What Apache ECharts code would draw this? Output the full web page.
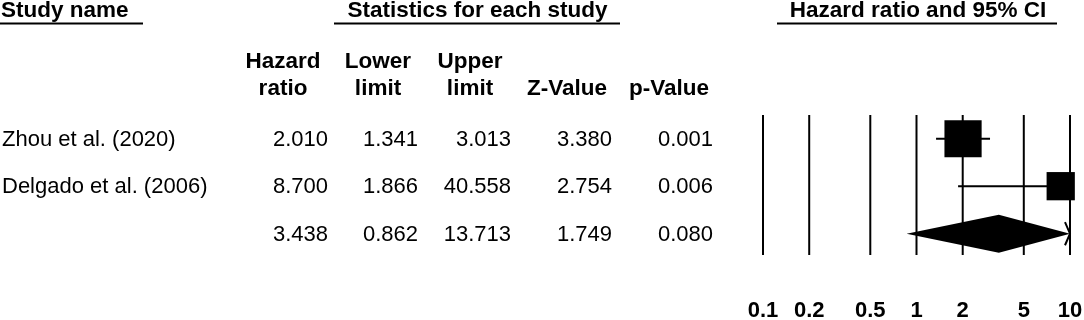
<!DOCTYPE html>
<html><head><meta charset="utf-8">
<script src="https://cdn.jsdelivr.net/npm/echarts@6/dist/echarts.min.js"></script>
<style>html,body{margin:0;padding:0;background:#fff}#c{width:1084px;height:320px}</style>
</head><body><div id="c"></div>
<script>
// ---- data ----
const studies = ['Zhou et al. (2020)', 'Delgado et al. (2006)', ''];
const hazardRatio = [2.010, 8.700, 3.438];
const lowerLimit = [1.341, 1.866, 0.862];
const upperLimit = [3.013, 40.558, 13.713];
const zValue = [3.380, 2.754, 1.749];
const pValue = [0.001, 0.006, 0.080];
const relWeight = [63.4, 36.6, 100];          // relative weights (%), last = pooled
const isSummary = [false, false, true];
const xTicks = [0.1, 0.2, 0.5, 1, 2, 5, 10];
const xTickLabels = ['0.1', '0.2', '0.5', '1', '2', '5', '10'];
const colHeaders = [['Hazard', 'ratio'], ['Lower', 'limit'], ['Upper', 'limit'], ['', 'Z-Value'], ['', 'p-Value']];
const sectionTitles = ['Study name', 'Statistics for each study', 'Hazard ratio and 95% CI'];

// ---- layout ----
const FONT = '"Liberation Sans", Arial, Helvetica, sans-serif';
const colRight = [328, 418, 511, 612, 713];
const colCenter = [283, 378, 470, 567, 669];
const X_MIN = 0.1, X_MAX = 10;

const chart = echarts.init(document.getElementById('c'), null, { renderer: 'canvas' });

function txt(x, y, text, align, bold, size) {
  return { type: 'text', silent: true, style: { x, y, text, align, verticalAlign: 'middle',
    fontFamily: FONT, fontSize: size || 22, fontWeight: bold ? 'bold' : 'normal', fill: '#000' } };
}
function ln(x1, y1, x2, y2, w) {
  return { type: 'line', silent: true, shape: { x1, y1, x2, y2 }, style: { stroke: '#000', lineWidth: w || 2 } };
}

const graphic = [];
// section titles + underlines
const titleCenters = [null, 477.5, 918];
graphic.push(txt(1, 10.5, sectionTitles[0], 'left', true, 22.5));
graphic.push(txt(titleCenters[1], 10.5, sectionTitles[1], 'center', true, 22.5));
graphic.push(txt(titleCenters[2], 10.5, sectionTitles[2], 'center', true, 22.5));
graphic.push(ln(0, 23.5, 143, 23.5, 2));
graphic.push(ln(334, 23.5, 620, 23.5, 2));
graphic.push(ln(777, 23.5, 1057, 23.5, 2));
// column headers
colHeaders.forEach((h, k) => {
  if (h[0]) graphic.push(txt(colCenter[k], 61.5, h[0], 'center', true, 22.5));
  if (h[1]) graphic.push(txt(colCenter[k], 88.5, h[1], 'center', true, 22.5));
});

const rowData = studies.map((s, i) => [1, i, i]);

const option = {
  animation: false,
  backgroundColor: '#fff',
  grid: { left: 763, right: 14, top: 115, height: 140 },
  xAxis: { type: 'log', logBase: 10, min: X_MIN, max: X_MAX, show: false },
  yAxis: { type: 'value', min: -0.5, max: 2.45, inverse: true, show: false },
  graphic: graphic,
  series: [
    { // vertical reference lines and tick labels
      type: 'custom', clip: false, silent: true,
      data: xTicks.map((v, k) => [v, 0, k]),
      renderItem(params, api) {
        const cs = params.coordSys;
        const k = api.value(2);
        const x = api.coord([api.value(0), 0])[0];
        return { type: 'group', children: [
          ln(x, cs.y, x, cs.y + cs.height, 2),
          txt(x, cs.y + cs.height + 56, xTickLabels[k], 'center', true, 22)
        ] };
      }
    },
    { // table text
      type: 'custom', clip: false, silent: true,
      data: rowData,
      renderItem(params, api) {
        const i = api.value(2);
        const y = api.coord([1, i])[1] + 1.2;
        const vals = [hazardRatio[i], lowerLimit[i], upperLimit[i], zValue[i], pValue[i]];
        const ch = [txt(2, y, studies[i], 'left', false, 22)];
        vals.forEach((v, k) => ch.push(txt(colRight[k], y, v.toFixed(3), 'right', false, 22)));
        return { type: 'group', children: ch };
      }
    },
    { // forest marks
      type: 'custom', clip: false, silent: true,
      data: rowData,
      renderItem(params, api) {
        const i = api.value(2);
        const clamp = v => Math.max(X_MIN, Math.min(X_MAX, v));
        const y = api.coord([1, i])[1];
        const xl = api.coord([clamp(lowerLimit[i]), i])[0];
        const xu = api.coord([clamp(upperLimit[i]), i])[0];
        const xe = api.coord([clamp(hazardRatio[i]), i])[0];
        const ch = [];
        const arrowR = upperLimit[i] > X_MAX;
        const arrowL = lowerLimit[i] < X_MIN;
        if (!isSummary[i]) {
          const s = 4.67 * Math.sqrt(relWeight[i]);
          ch.push(ln(xl, y, xu, y, 2));
          ch.push({ type: 'rect', shape: { x: xe - s / 2, y: y - s / 2, width: s, height: s }, style: { fill: '#000' } });
        } else {
          ch.push({ type: 'polygon', shape: { points: [[xl, y], [xe, y - 19], [xu, y], [xe, y + 19]] }, style: { fill: '#000' } });
        }
        if (arrowR) ch.push({ type: 'polyline', shape: { points: [[xu - 5, y - 11.6], [xu, y], [xu - 5, y + 11.6]] }, style: { stroke: '#000', lineWidth: 2, fill: null } });
        if (arrowL) ch.push({ type: 'polyline', shape: { points: [[xl + 5, y - 11.6], [xl, y], [xl + 5, y + 11.6]] }, style: { stroke: '#000', lineWidth: 2, fill: null } });
        return { type: 'group', children: ch };
      }
    }
  ]
};
chart.setOption(option);
</script>
</body></html>
